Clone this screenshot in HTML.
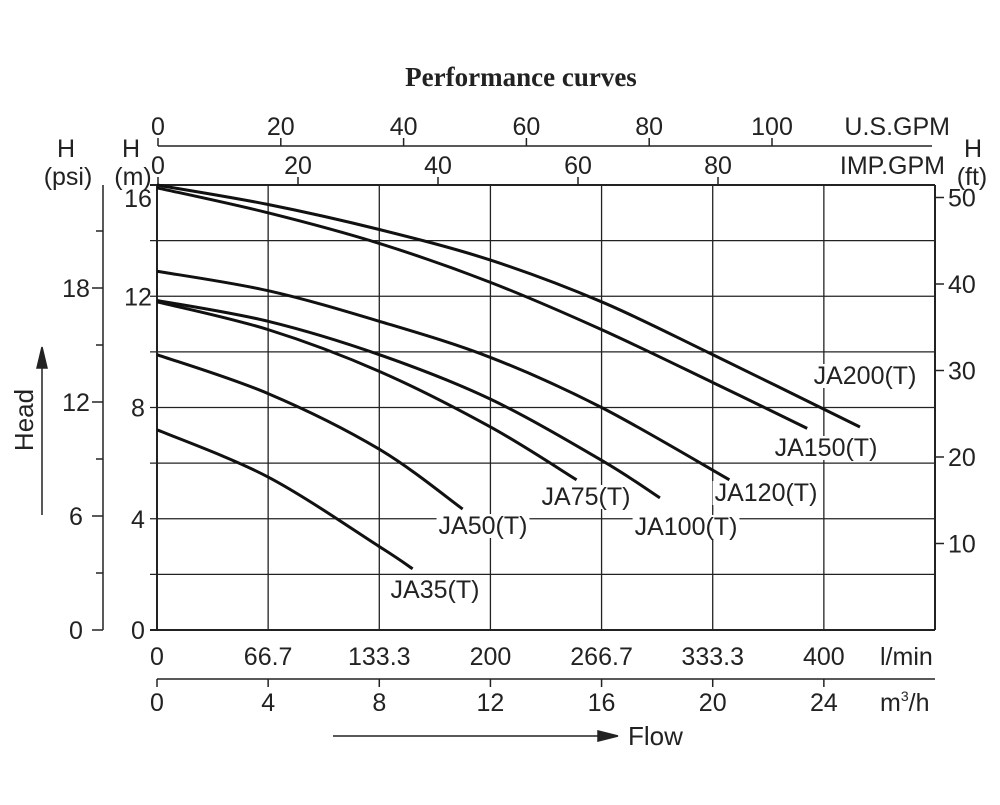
<!DOCTYPE html>
<html><head><meta charset="utf-8"><style>
html,body{margin:0;padding:0;background:#fff;}
svg text{font-family:"Liberation Sans",sans-serif;fill:#222;}
</style></head><body>
<svg id="chart" width="1000" height="800" viewBox="0 0 1000 800" xmlns="http://www.w3.org/2000/svg">
<text x="521" y="86" text-anchor="middle" style="font-family:'Liberation Serif',serif;font-weight:bold;font-size:27px">Performance curves</text>
<g id="axes" stroke="#222" fill="none" stroke-width="1.5"></g>
<g id="labels" font-size="25"></g>
<g id="curves" stroke="#111" fill="none" stroke-width="3"></g>
</svg>
<script>
const curveNames = ["JA200(T)","JA150(T)","JA120(T)","JA100(T)","JA75(T)","JA50(T)","JA35(T)"];
const ja200Flow = [0,4,8,12,16,20,25.3];
const ja200Head = [16,15.3,14.4,13.3,11.8,9.9,7.3];
const ja150Flow = [0,4,8,12,16,20,23.4];
const ja150Head = [15.9,15.0,13.9,12.5,10.8,8.9,7.25];
const ja120Flow = [0,4,8,12,16,20.6];
const ja120Head = [12.9,12.2,11.1,9.8,8.0,5.4];
const ja100Flow = [0,4,8,12,16,18.1];
const ja100Head = [11.85,11.1,9.9,8.3,6.1,4.75];
const ja75Flow = [0,4,8,12,15.1];
const ja75Head = [11.8,10.8,9.3,7.3,5.4];
const ja50Flow = [0,4,8,11];
const ja50Head = [9.9,8.5,6.5,4.35];
const ja35Flow = [0,4,8,9.2];
const ja35Head = [7.2,5.5,3.0,2.2];
const lminTicks = ["0","66.7","133.3","200","266.7","333.3","400"];
const m3hTicks = [0,4,8,12,16,20,24];
const headMTicks = [0,4,8,12,16];
const psiTicks = [0,6,12,18];
const ftTicks = [10,20,30,40,50];
const usgpmTicks = [0,20,40,60,80,100];
const impgpmTicks = [0,20,40,60,80];

const X0=157,X1=935,Y0=630,Y1=185;
const xs = q => X0 + q*(X1-X0)/28;
const ys = h => Y0 - h*(Y0-Y1)/16;
const psiY = p => 630 - p*19;
const ftY = f => 630 - f*8.65;
const usX = g => 158 + g*6.14;
const impX = g => 158 + g*7.0;

const NS="http://www.w3.org/2000/svg";
const axes=document.getElementById('axes'), labels=document.getElementById('labels'), curves=document.getElementById('curves');
function line(p,x1,y1,x2,y2,name,w){const l=document.createElementNS(NS,'line');l.setAttribute('x1',x1);l.setAttribute('y1',y1);l.setAttribute('x2',x2);l.setAttribute('y2',y2);if(w)l.setAttribute('stroke-width',w);


p.appendChild(l);return l;}
function text(s,x,y,anchor,name,size){const t=document.createElementNS(NS,'text');t.textContent=s;t.setAttribute('x',x);t.setAttribute('y',y);t.setAttribute('text-anchor',anchor||'middle');if(size)t.setAttribute('font-size',size);


labels.appendChild(t);return t;}

for(let q=0;q<=28;q+=4) line(axes,xs(q),Y1,xs(q),Y0,'grid-vertical',q===0||q===28?2:1.3);
for(let h=0;h<=16;h+=2) line(axes,X0-7,ys(h),X1,ys(h),'grid-horizontal',h===0||h===16?2:1.3);
headMTicks.forEach(h=>text(String(h),138,ys(h)+(h===16?22:9),'middle','head-m-tick'));
line(axes,103,185,103,630,'psi-axis-line');
for(let p=0;p<=21;p+=3){ if(psiY(p)>=185) line(axes,p%6===0?92:96,psiY(p),103,psiY(p),'psi-tick');}
psiTicks.forEach(p=>text(String(p),76,psiY(p)+9,'middle','psi-tick-label'));
line(axes,935,185,935,630,'ft-axis-line');
ftTicks.forEach(f=>{line(axes,935,ftY(f),944,ftY(f),'ft-tick');text(String(f),948,ftY(f)+9,'start','ft-tick-label');});
line(axes,158,146,932,146,'usgpm-axis-line');
usgpmTicks.forEach(g=>{line(axes,usX(g),146,usX(g),138,'usgpm-tick');text(String(g),usX(g),135,'middle','usgpm-tick-label');});
impgpmTicks.forEach(g=>{line(axes,impX(g),185,impX(g),177,'impgpm-tick');text(String(g),impX(g),174,'middle','impgpm-tick-label');});
text('U.S.GPM',950,135,'end','usgpm-unit');
text('IMP.GPM',945,174,'end','impgpm-unit');
lminTicks.forEach((s,i)=>text(s,xs(i*4),665,'middle','lmin-tick-label'));
text('l/min',880,665,'start','lmin-unit');
line(axes,157,679,935,679,'m3h-axis-line');
m3hTicks.forEach(q=>{line(axes,xs(q),679,xs(q),687,'m3h-tick');text(String(q),xs(q),711,'middle','m3h-tick-label');});
const mu=text('m',880,711,'start','m3h-unit');
mu.innerHTML='m<tspan dy="-10" font-size="14">3</tspan><tspan dy="10">/h</tspan>';
text('H',66,157,'middle','psi-header');text('(psi)',68,185,'middle','psi-unit');
text('H',131,157,'middle','m-header');text('(m)',133,185,'middle','m-unit');
text('H',973,157,'middle','ft-header');text('(ft)',972,185,'middle','ft-unit');
line(axes,333,736,600,736,'flow-arrow-line');
const fa=document.createElementNS(NS,'path');fa.setAttribute('d','M618 736 L598 731 L598 741 Z');fa.setAttribute('fill','#222');


axes.appendChild(fa);
text('Flow',628,745,'start','flow-label',26);
line(axes,42,515,42,365,'head-arrow-line');
const ha=document.createElementNS(NS,'path');ha.setAttribute('d','M42 347 L37 368 L47 368 Z');ha.setAttribute('fill','#222');


axes.appendChild(ha);
const ht=text('Head',33,420,'middle','head-label',26);ht.setAttribute('transform','rotate(-90 33 420)');

const flows=[ja200Flow,ja150Flow,ja120Flow,ja100Flow,ja75Flow,ja50Flow,ja35Flow];
const heads=[ja200Head,ja150Head,ja120Head,ja100Head,ja75Head,ja50Head,ja35Head];
const labelPos=[[865,384],[826,456],[766,501],[686,535],[586,505],[483,534],[435,598]];
curveNames.forEach((n,i)=>{
  const pts=flows[i].map((q,j)=>[xs(q),ys(heads[i][j])]);
  let d='M'+pts[0][0]+' '+pts[0][1];
  for(let k=0;k<pts.length-1;k++){
    const p0=pts[Math.max(k-1,0)],p1=pts[k],p2=pts[k+1],p3=pts[Math.min(k+2,pts.length-1)];
    const c1=[p1[0]+(p2[0]-p0[0])/6,p1[1]+(p2[1]-p0[1])/6];
    const c2=[p2[0]-(p3[0]-p1[0])/6,p2[1]-(p3[1]-p1[1])/6];
    d+=` C${c1[0]} ${c1[1]} ${c2[0]} ${c2[1]} ${p2[0]} ${p2[1]}`;
  }
  const p=document.createElementNS(NS,'path');p.setAttribute('d',d);
  
  
  curves.appendChild(p);
  const lp=labelPos[i];
  const bg=document.createElementNS(NS,'rect');
  bg.setAttribute('fill','#fff');
  
  
  labels.appendChild(bg);
  const t=text(n,lp[0],lp[1],'middle','curve-label');
  const b=t.getBBox();
  bg.setAttribute('x',b.x-2);bg.setAttribute('y',b.y+2);bg.setAttribute('width',b.width+4);bg.setAttribute('height',b.height-4);
});
</script>
</body></html>
